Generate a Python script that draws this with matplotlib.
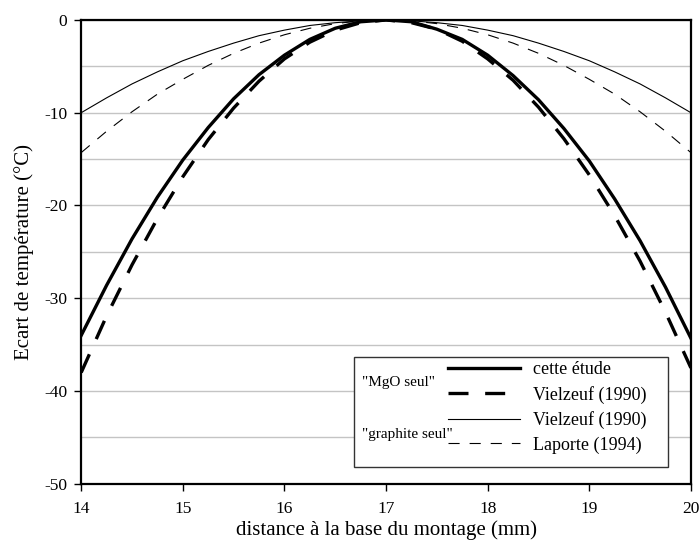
import numpy as np
import matplotlib.pyplot as plt
from matplotlib.patches import Rectangle

plt.rcParams['font.family'] = ['Liberation Serif', 'DejaVu Serif']
plt.rcParams['axes.unicode_minus'] = False

# distance (mm), 0.25 mm step
x = [14.0, 14.25, 14.5, 14.75, 15.0, 15.25, 15.5, 15.75, 16.0, 16.25, 16.5, 16.75, 17.0,
     17.25, 17.5, 17.75, 18.0, 18.25, 18.5, 18.75, 19.0, 19.25, 19.5, 19.75, 20.0]

# temperature deviation (degC)
cette_etude = [-34.0, -28.6, -23.6, -19.1, -15.1, -11.6, -8.5, -5.9, -3.8, -2.1, -0.9, -0.2, 0.0,
               -0.2, -1.0, -2.1, -3.8, -6.0, -8.6, -11.7, -15.2, -19.3, -23.8, -28.8, -34.3]
vielzeuf_mgo = [-38.0, -31.9, -26.4, -21.4, -16.9, -12.9, -9.5, -6.6, -4.2, -2.4, -1.1, -0.3, 0.0,
                -0.3, -1.0, -2.3, -4.2, -6.5, -9.4, -12.8, -16.7, -21.1, -26.0, -31.5, -37.5]
vielzeuf_gr = [-10.0, -8.4, -6.9, -5.6, -4.4, -3.4, -2.5, -1.7, -1.1, -0.6, -0.3, -0.1, 0.0,
               -0.1, -0.3, -0.6, -1.1, -1.7, -2.5, -3.4, -4.4, -5.6, -6.9, -8.4, -10.0]
laporte = [-14.3, -12.0, -9.9, -8.0, -6.4, -4.9, -3.6, -2.5, -1.6, -0.9, -0.4, -0.1, 0.0,
           -0.1, -0.4, -0.9, -1.6, -2.5, -3.6, -4.9, -6.4, -8.0, -9.9, -12.0, -14.3]

labels = ['cette étude', 'Vielzeuf (1990)', 'Vielzeuf (1990)', 'Laporte (1994)']

fig = plt.figure(figsize=(7, 5.53), dpi=100)
ax = fig.add_axes([0.116, 0.125, 0.871, 0.839])

ax.plot(x, cette_etude, color='black', lw=2.4, label=labels[0], zorder=4)
ax.plot(x, vielzeuf_mgo, color='black', lw=2.4, dashes=(6.0, 5.0), label=labels[1], zorder=4)
ax.plot(x, vielzeuf_gr, color='black', lw=0.8, label=labels[2], zorder=4)
ax.plot(x, laporte, color='black', lw=0.8, dashes=(10, 9), label=labels[3], zorder=4)

ax.set_xlim(14, 20)
ax.set_ylim(-50, 0)
ax.set_xticks(range(14, 21))
ax.set_yticks(range(-50, 1, 10))
ax.set_yticks(range(-45, 0, 5), minor=True)
ax.grid(axis='y', which='both', color='#c4c4c4', lw=1.0)
ax.set_axisbelow(True)
ax.tick_params(axis='both', which='major', direction='out', length=5, width=1,
               labelsize=12.5, color='black')
ax.tick_params(axis='y', which='minor', length=0)
ax.tick_params(axis='y', pad=5)
ax.tick_params(axis='x', pad=7)
for s in ax.spines.values():
    s.set_linewidth(1.6)
    s.set_color('black')

ax.set_xlabel('distance à la base du montage (mm)', fontsize=15, labelpad=3)
ax.set_ylabel('Ecart de température (°C)', fontsize=15, labelpad=7)

# legend box with the two group labels
box = Rectangle((0.4475, 0.037), 0.5145, 0.237, transform=ax.transAxes,
                facecolor='white', edgecolor='#333333', lw=1.0, zorder=5)
ax.add_patch(box)
ax.text(0.461, 0.218, '"MgO seul"', transform=ax.transAxes, fontsize=11,
        va='center', ha='left', zorder=6)
ax.text(0.461, 0.106, '"graphite seul"', transform=ax.transAxes, fontsize=11,
        va='center', ha='left', zorder=6)

leg = ax.legend(loc='upper left', bbox_to_anchor=(0.602, 0.264), frameon=False,
                fontsize=13, handlelength=4.0, handletextpad=0.7, borderpad=0,
                borderaxespad=0, labelspacing=0.41)
leg.set_zorder(6)

fig.savefig('out.png', dpi=100)
